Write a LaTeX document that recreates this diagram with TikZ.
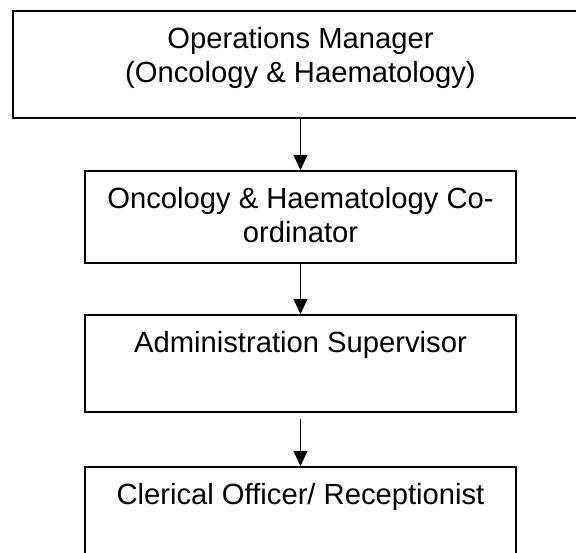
\documentclass[tikz,border=0pt]{standalone}
\usepackage{fontspec}
\setmainfont{Liberation Sans}
\usepackage{tikz}
\usetikzlibrary{positioning, arrows.meta}
\tikzset{
    rolebox/.style   = {draw, line width=1.3pt, minimum width=323.25pt, inner sep=0pt},
    roletext/.style  = {font=\fontsize{21.9}{25.5}\selectfont, align=center, inner sep=0pt,
                        anchor=north, yshift=-12.75pt},
    link/.style      = {-{Triangle[length=11.5pt, width=10.5pt]}, line width=1.2pt}
}

\begin{document}
\begin{tikzpicture}[x=0.75pt, y=-0.75pt]
        \useasboundingbox (0,0) rectangle (576,553);
        \clip (0,0) rectangle (576,553);

        \node[rolebox, minimum width=431.25pt, minimum height=80.25pt,
              label={[roletext]north:Operations Manager\\(Oncology \& Haematology)}]
              (mgr) at (300.5,64.5) {};
        \node[rolebox, minimum height=69pt,
              label={[roletext]north:Oncology \& Haematology Co-\\ordinator}]
              (coord) at (300.5,217) {};
        \node[rolebox, minimum height=72.75pt,
              label={[roletext]north:Administration Supervisor}]
              (super) at (300.5,363.5) {};
        \node[rolebox, minimum height=82.5pt,
              label={[roletext]north:Clerical Officer/ Receptionist}]
              (clerk) at (300.5,522) {};

        \draw[link] (mgr.south) -- (coord.north);
        \draw[link] (coord.south) -- (super.north);
        \draw[link] ([yshift=-4.5pt]super.south) -- (clerk.north);
    \end{tikzpicture}
\end{document}
